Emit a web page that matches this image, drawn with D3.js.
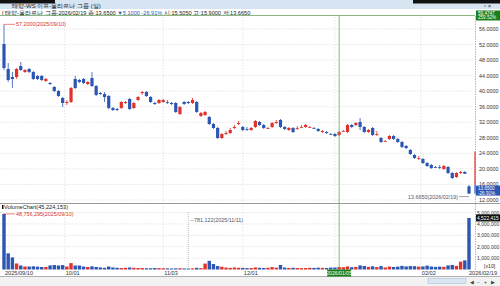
<!DOCTYPE html>
<html><head><meta charset="utf-8">
<script src="https://cdn.jsdelivr.net/npm/d3@7/dist/d3.min.js"></script>
<style>body{margin:0;background:#fff;overflow:hidden}svg{display:block;font-family:"Liberation Sans",Arial,sans-serif}</style>
</head><body><svg id="c" width="500" height="286"></svg>
<script>
// ---- data ----
const opens  = [52.14,45.71,43.65,43.65,46.48,44.94,45.71,44.94,43.91,43.91,42.62,42.11,41.08,40.05,38.25,36.96,37.22,43.14,42.88,43.14,41.85,43.39,41.34,39.53,39.28,38.76,35.67,35.42,35.67,36.96,37.99,35.67,37.73,39.53,39.79,38.50,36.96,36.96,37.22,37.22,36.96,36.96,34.13,37.22,37.22,36.96,37.22,33.62,33.87,33.36,31.56,30.53,27.95,28.98,29.24,30.53,31.56,30.79,30.27,30.01,30.79,32.07,31.30,30.40,30.79,31.81,32.59,30.79,30.01,30.53,30.40,30.66,30.79,30.66,30.53,30.27,29.50,29.50,28.98,28.98,28.73,29.63,29.50,31.30,31.30,32.07,30.79,29.50,30.53,28.85,27.95,27.05,27.70,28.47,27.70,26.93,25.90,24.87,23.58,22.68,22.55,21.52,21.01,20.49,20.49,19.98,20.49,18.95,17.92,18.95,19.21,15.51];
const highs  = [57.20,47.25,44.94,45.97,47.51,45.71,45.97,45.20,44.17,44.17,43.39,42.37,41.34,40.31,38.50,37.73,41.08,43.91,43.14,43.39,42.62,44.94,41.59,39.79,39.79,39.02,35.93,35.67,37.48,37.48,38.25,37.22,38.76,40.05,40.05,38.76,37.22,37.99,37.99,37.73,37.22,37.22,36.19,37.48,37.48,38.25,37.48,34.65,34.90,33.62,31.81,30.79,29.24,29.76,30.53,31.30,32.33,31.04,30.79,30.79,32.59,32.33,31.56,30.79,32.07,32.59,32.84,31.04,30.79,30.79,31.04,31.30,31.56,31.04,30.79,30.53,30.01,29.76,29.24,29.24,29.76,30.01,31.56,31.56,32.07,33.10,31.04,30.27,30.79,29.76,28.21,27.44,28.73,28.73,27.95,27.18,26.15,25.12,23.84,23.32,22.81,21.78,21.26,20.75,21.01,21.01,20.75,19.21,19.21,19.46,19.46,15.90];
const lows   = [45.45,42.37,40.82,43.14,45.20,44.68,44.68,42.88,42.88,42.62,42.37,41.59,39.79,38.50,35.93,36.45,36.96,40.56,42.11,41.85,41.59,41.08,38.76,39.02,37.22,35.42,34.90,34.90,35.42,36.70,35.16,35.42,37.48,39.02,38.50,36.96,36.45,36.70,36.96,36.70,36.45,34.39,33.87,36.45,36.70,36.70,34.39,33.36,33.62,31.30,30.27,27.70,27.70,28.73,28.98,30.27,31.30,29.76,29.76,29.76,30.53,31.04,30.27,30.27,30.53,31.56,30.53,30.01,29.76,29.24,30.01,30.53,30.53,30.53,30.27,29.50,29.24,28.98,28.73,28.21,28.47,29.50,29.24,30.53,31.04,30.01,29.24,29.24,28.47,28.47,26.67,26.93,27.44,27.44,26.67,25.38,25.12,23.58,22.55,22.29,21.26,20.49,19.98,20.23,19.98,19.72,18.69,17.40,17.66,18.69,18.69,13.65];
const closes = [45.97,42.88,43.14,45.71,45.45,45.45,44.94,43.14,43.14,42.88,43.14,41.85,40.05,38.76,36.96,37.22,40.82,40.82,42.37,42.11,42.37,41.34,39.02,39.28,38.50,35.67,35.16,35.16,37.22,37.22,35.42,36.96,38.50,39.79,38.76,37.22,36.70,37.73,37.73,37.10,36.70,34.65,35.93,36.70,36.96,37.73,34.65,34.39,34.65,31.56,30.53,27.95,28.98,29.24,30.01,30.79,31.81,30.01,30.15,30.53,32.33,31.30,30.53,30.53,31.81,32.07,30.79,30.27,30.53,29.50,30.53,30.79,31.30,30.79,30.40,29.76,29.76,29.24,28.85,28.47,29.50,29.76,31.30,30.79,31.81,30.79,29.50,30.01,28.73,28.98,26.93,27.18,28.47,27.70,26.93,25.64,25.38,23.84,22.81,22.81,21.52,20.75,20.23,20.36,20.36,20.75,18.95,17.66,18.95,19.21,18.75,13.65];
const volumes = [48756295,14200000,10600000,5300000,3500000,2600000,2600000,2800000,2500000,2200000,2200000,3600000,3900000,3500000,3900000,2600000,5600000,3500000,3500000,2600000,2200000,2800000,2200000,1800000,1500000,2600000,1800000,1500000,1300000,1500000,1800000,1500000,1300000,1300000,1100000,1100000,1300000,1200000,1100000,1000000,900000,1000000,1100000,900000,781122,1000000,1500000,1200000,5200000,7600000,4800000,3000000,2400000,1700000,1400000,1800000,1500000,1400000,1200000,1300000,1800000,1500000,1300000,1500000,2100000,1600000,4000000,1700000,1400000,1500000,1300000,1200000,1300000,1500000,1400000,1600000,1400000,1300000,1700000,1700000,2200000,2000000,2700000,2000000,2200000,3600000,3100000,2300000,2800000,2100000,3000000,1800000,2600000,2200000,2500000,3200000,2700000,3000000,2900000,2500000,2700000,3400000,2600000,2300000,2500000,2300000,3600000,4000000,3200000,6900000,8000000,45224153];
const priceTicks = [12,16,20,24,28,32,36,40,44,48,52,56];
const volTicks = [10000000,20000000,30000000,40000000,50000000];
const monthStarts = [14.5,38,57,79,99.5];
const dateLabels = [["2025/09/10",0],["10/01",14.5],["11/03",38],["12/01",57],["02/02",99.5]];
const crossIdx = 80;
const crossPrice = 59.4747;

// ---- layout ----
const svg = d3.select("#c");
const N = opens.length;
const xR = 473, axX = 475;
const x = d3.scaleLinear().domain([0, N-1]).range([4, 469]);
const y = d3.scaleLinear().domain([12, 56]).range([200, 29]);
const yv = d3.scaleLinear().domain([0, 50000000]).range([269.5, 212.5]);
const BLUE = "#2b56b3", RED = "#e0312b", GRID = "#d4d4d4";
const fmt4 = d3.format(".4f"), fmtC = d3.format(",");

// title bars
svg.append("rect").attr("x",0).attr("y",0).attr("width",500).attr("height",9).attr("fill","#d7e4f2");
svg.append("rect").attr("x",0).attr("y",0).attr("width",55).attr("height",3.5).attr("fill","#111");
svg.append("rect").attr("x",413).attr("y",0).attr("width",87).attr("height",3.5).attr("fill","#111");
svg.append("text").attr("x",12).attr("y",7.5).attr("font-size",6).attr("fill","#222").text("태양-WS 이프-몰라르나 그룹 (일)");
svg.append("text").attr("x",484).attr("y",8).attr("font-size",6).attr("fill","#333").text("▫ ×");
const hdr = svg.append("text").attr("x",2).attr("y",14.5).attr("font-size",5.6).attr("fill","#222");
hdr.append("tspan").text("I 태양-몰라르나 그룹-2026/02/19 종:13.6500 ");
hdr.append("tspan").attr("fill",BLUE).text("▼5.1000  -26.91%");
hdr.append("tspan").text(" 시:15.5050 고:15.9000 저:13.6650");

// grid
const g = svg.append("g");
g.selectAll(".hp").data(priceTicks).join("line").attr("x1",0).attr("x2",xR)
 .attr("y1",d=>y(d)).attr("y2",d=>y(d)).attr("stroke",GRID).attr("stroke-width",0.6).attr("stroke-dasharray","1.5,1.5");
g.selectAll(".hv").data(volTicks).join("line").attr("x1",0).attr("x2",xR)
 .attr("y1",d=>yv(d)).attr("y2",d=>yv(d)).attr("stroke",GRID).attr("stroke-width",0.6).attr("stroke-dasharray","1.5,1.5");
g.selectAll(".vg").data(monthStarts).join("line").attr("x1",d=>x(d)).attr("x2",d=>x(d))
 .attr("y1",17).attr("y2",270).attr("stroke",GRID).attr("stroke-width",0.6).attr("stroke-dasharray","1.5,1.5");

// candles
const idx = d3.range(N);
const cg = svg.append("g");
cg.selectAll("line").data(idx).join("line")
 .attr("x1",i=>x(i)).attr("x2",i=>x(i)).attr("y1",i=>y(highs[i])).attr("y2",i=>y(lows[i]))
 .attr("stroke",i=>closes[i]>=opens[i]?RED:BLUE).attr("stroke-width",0.8);
cg.selectAll("rect").data(idx).join("rect")
 .attr("x",i=>x(i)-1.6).attr("width",3.2)
 .attr("y",i=>y(Math.max(opens[i],closes[i])))
 .attr("height",i=>Math.max(0.8, Math.abs(y(opens[i])-y(closes[i]))))
 .attr("fill",i=>closes[i]>=opens[i]?RED:BLUE);

// volume bars
svg.append("g").selectAll("rect").data(idx).join("rect")
 .attr("x",i=>x(i)-1.7).attr("width",3.4)
 .attr("y",i=>yv(volumes[i])).attr("height",i=>yv(0)-yv(volumes[i]))
 .attr("fill",i=>closes[i]>=opens[i]?RED:BLUE);

// separators and axis
svg.append("line").attr("x1",0).attr("x2",500).attr("y1",203.5).attr("y2",203.5).attr("stroke","#9a9a9a");
svg.append("line").attr("x1",0).attr("x2",500).attr("y1",276.5).attr("y2",276.5).attr("stroke","#b0b0b0");
svg.append("line").attr("x1",axX+0.5).attr("x2",axX+0.5).attr("y1",16).attr("y2",270).attr("stroke","#888").attr("stroke-width",0.6).attr("stroke-dasharray","1.5,1");

// price axis labels
svg.append("g").selectAll("text").data(priceTicks).join("text")
 .attr("x",479).attr("y",d=>y(d)+2).attr("font-size",5.4).attr("fill","#333").text(d=>fmt4(d));
svg.append("g").selectAll("text").data(volTicks).join("text")
 .attr("x",477).attr("y",d=>yv(d)+2).attr("font-size",5).attr("fill","#333").text(d=>fmtC(d/10));
svg.append("text").attr("x",484).attr("y",268).attr("font-size",5.2).attr("fill","#333").text("[x10]");

// price range marker on axis
svg.append("line").attr("x1",axX).attr("x2",axX).attr("y1",y(24.5)).attr("y2",y(15.9)).attr("stroke",RED).attr("stroke-width",1.2);
svg.append("line").attr("x1",axX).attr("x2",axX).attr("y1",y(15.9)).attr("y2",y(13.65)).attr("stroke",BLUE).attr("stroke-width",1.2);

// last price box
svg.append("rect").attr("x",476).attr("y",y(13.65)-8).attr("width",24).attr("height",10).attr("fill",BLUE);
svg.append("text").attr("x",478).attr("y",y(13.65)-3.5).attr("font-size",4.6).attr("fill","#fff").text("13.6500");
svg.append("text").attr("x",478).attr("y",y(13.65)+1).attr("font-size",4.6).attr("fill","#fff").text("-26.91%");
// last volume box
svg.append("rect").attr("x",476).attr("y",yv(volumes[N-1])-3.5).attr("width",24).attr("height",7).attr("fill","#111");
svg.append("text").attr("x",477).attr("y",yv(volumes[N-1])+2).attr("font-size",4.9).attr("fill","#fff").text(fmtC(Math.round(volumes[N-1]/10)));

// max/min annotations
const hiI = d3.maxIndex(highs);
svg.append("line").attr("x1",x(hiI)).attr("x2",x(hiI)+11).attr("y1",y(highs[hiI])).attr("y2",y(highs[hiI])).attr("stroke",RED).attr("stroke-width",0.6);
svg.append("text").attr("x",x(hiI)+12).attr("y",y(highs[hiI])+2).attr("font-size",5.4).attr("fill",RED).text(fmt4(highs[hiI])+"(2025/09/10)");
const loI = d3.minIndex(lows);
svg.append("line").attr("x1",x(loI)).attr("x2",x(loI)-10).attr("y1",y(lows[loI])+3).attr("y2",y(lows[loI])+3).attr("stroke","#667").attr("stroke-width",0.6);
svg.append("text").attr("x",x(loI)-11).attr("y",y(lows[loI])+5).attr("text-anchor","end").attr("font-size",5.4).attr("fill","#556").text("13.6650(2026/02/19)");
const vMax = d3.maxIndex(volumes);
svg.append("line").attr("x1",x(vMax)).attr("x2",x(vMax)+11).attr("y1",yv(volumes[vMax])).attr("y2",yv(volumes[vMax])).attr("stroke",RED).attr("stroke-width",0.6);
svg.append("text").attr("x",x(vMax)+12).attr("y",yv(volumes[vMax])+2).attr("font-size",5.4).attr("fill",RED).text(fmtC(volumes[vMax])+"(2025/09/10)");
const vMin = d3.minIndex(volumes);
svg.append("line").attr("x1",x(vMin)).attr("x2",x(vMin)).attr("y1",212).attr("y2",269).attr("stroke","#999").attr("stroke-width",0.6).attr("stroke-dasharray","1,1");
svg.append("text").attr("x",x(vMin)+2).attr("y",222).attr("font-size",5.4).attr("fill","#556").text("--"+fmtC(volumes[vMin])+"(2025/11/11)");
svg.append("rect").attr("x",2).attr("y",205).attr("width",1.5).attr("height",4).attr("fill","#111");
svg.append("text").attr("x",4).attr("y",209).attr("font-size",5.6).attr("fill","#222").text("VolumeChart("+fmtC(volumes[N-1])+")");

// crosshair
const cx = x(crossIdx);
svg.append("line").attr("x1",cx).attr("x2",cx).attr("y1",16).attr("y2",270).attr("stroke","#6aa35a").attr("stroke-width",0.8);
svg.append("line").attr("x1",0).attr("x2",axX).attr("y1",y(crossPrice)).attr("y2",y(crossPrice)).attr("stroke","#6aa35a").attr("stroke-width",0.8);
svg.append("rect").attr("x",476).attr("y",y(crossPrice)-5).attr("width",24).attr("height",10).attr("fill","#1a7f1a");
svg.append("text").attr("x",478).attr("y",y(crossPrice)-0.5).attr("font-size",4.6).attr("fill","#fff").text(fmt4(crossPrice));
svg.append("text").attr("x",478).attr("y",y(crossPrice)+4).attr("font-size",4.6).attr("fill","#fff").text("259.52%");

// date labels
svg.append("g").selectAll("text").data(dateLabels).join("text")
 .attr("x",d=>x(d[1])+1).attr("y",275).attr("font-size",5.6).attr("fill","#333").text(d=>d[0]);
svg.append("text").attr("x",497).attr("y",275).attr("text-anchor","end").attr("font-size",5.6).attr("fill","#333").text("2026/02/19");
svg.append("rect").attr("x",cx-12).attr("y",269.5).attr("width",24).attr("height",7).attr("fill","#1a7f1a");
svg.append("text").attr("x",cx).attr("y",275).attr("text-anchor","middle").attr("font-size",5.2).attr("fill","#fff").text("2026/01/05");

// bottom scroll bar
svg.append("rect").attr("x",0).attr("y",277).attr("width",500).attr("height",9).attr("fill","#f2f2f2");
svg.append("rect").attr("x",428).attr("y",278.5).attr("width",38).attr("height",5).attr("fill","#dbe6f3").attr("stroke","#9fb3cc").attr("stroke-width",0.5);
["◀","−","+","▶"].forEach((s,i)=>{svg.append("text").attr("x",470+i*7).attr("y",283.5).attr("font-size",5).attr("fill","#444").text(s);});
</script></body></html>
